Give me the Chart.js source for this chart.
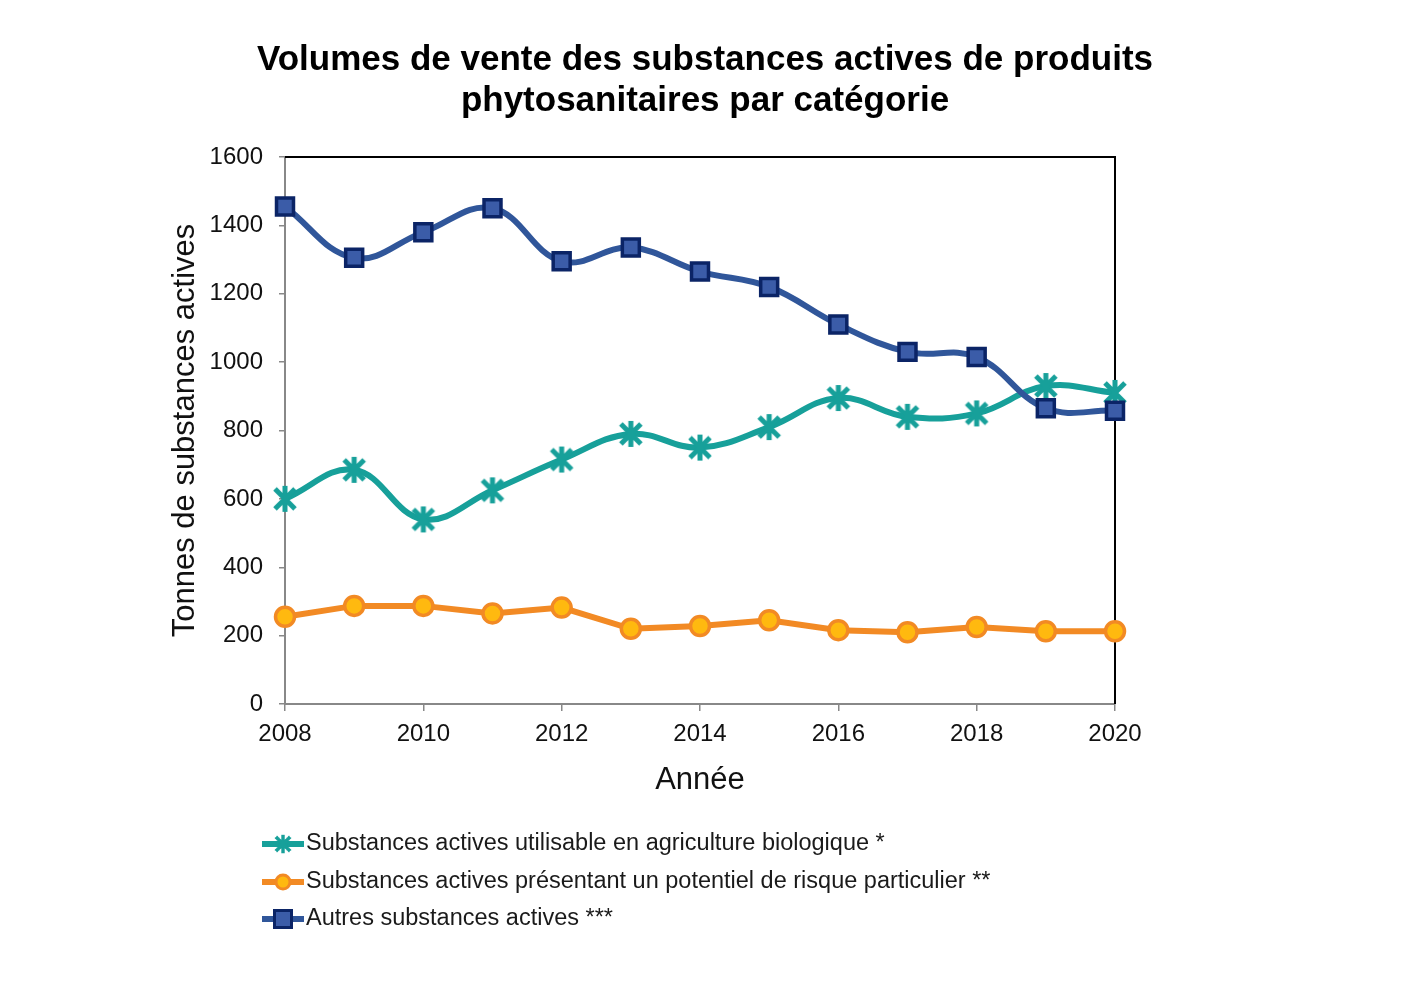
<!DOCTYPE html>
<html>
<head>
<meta charset="utf-8">
<script src="https://cdn.jsdelivr.net/npm/chart.js@4.4.1/dist/chart.umd.min.js"></script>
<style>
  body { margin: 0; background: #fff; }
  canvas { display: block; }
</style>
</head>
<body>
<canvas id="graphique" width="1409" height="981"></canvas>
<script>
const annees = [2008, 2009, 2010, 2011, 2012, 2013, 2014, 2015, 2016, 2017, 2018, 2019, 2020];
const bio = [600, 685, 540, 625, 715, 790, 750, 810, 895, 840, 850, 930, 910];
const risque = [255, 287, 287, 265, 282, 220, 228, 245, 216, 210, 225, 213, 213];
const autres = [1455, 1305, 1380, 1450, 1295, 1335, 1265, 1220, 1110, 1030, 1015, 865, 858];
const libelles = [
    'Substances actives utilisable en agriculture biologique *',
    'Substances actives présentant un potentiel de risque particulier **',
    'Autres substances actives ***'
];
const titre = ['Volumes de vente des substances actives de produits', 'phytosanitaires par catégorie'];

const POLICE = '"Liberation Sans", Arial, sans-serif';
const TEAL = '#17a09a';
const ORANGE = '#f28a24';
const JAUNE = '#ffb90f';
const BLEU = '#30569a';
const BLEU_FONCE = '#0b2466';
const BLEU_REMPLI = '#3b5ca8';

// marqueur étoile (X + trait vertical) comme dans Excel
function etoile(taille) {
    const c = document.createElement('canvas');
    c.width = taille;
    c.height = taille;
    const g = c.getContext('2d');
    g.strokeStyle = TEAL;
    g.lineWidth = 5;
    const m = 4;
    g.beginPath();
    g.moveTo(m, m); g.lineTo(taille - m, taille - m);
    g.moveTo(taille - m, m); g.lineTo(m, taille - m);
    g.moveTo(taille / 2, 1); g.lineTo(taille / 2, taille - 1);
    g.stroke();
    return c;
}
const marqueurEtoile = etoile(28);

const points = valeurs => annees.map((a, i) => ({ x: a, y: valeurs[i] }));

const series = [
    { label: libelles[0], data: points(bio), borderColor: TEAL, pointStyle: marqueurEtoile, tension: 0.4, order: 2 },
    { label: libelles[1], data: points(risque), borderColor: ORANGE, pointStyle: 'circle', pointRadius: 9.5,
      pointBackgroundColor: JAUNE, pointBorderColor: ORANGE, pointBorderWidth: 3.5, tension: 0, order: 3 },
    { label: libelles[2], data: points(autres), borderColor: BLEU, pointStyle: 'rect', pointRadius: 12,
      pointBackgroundColor: BLEU_REMPLI, pointBorderColor: BLEU_FONCE, pointBorderWidth: 3.5, tension: 0.4, order: 1 }
];

// titre centré sur la page, cadre noir haut + droite
const cadre = {
    id: 'cadre',
    beforeDatasetsDraw(chart) {
        const { ctx, chartArea: a } = chart;
        ctx.save();
        ctx.strokeStyle = '#000';
        ctx.lineWidth = 2;
        ctx.beginPath();
        ctx.moveTo(a.left, a.top);
        ctx.lineTo(a.right, a.top);
        ctx.lineTo(a.right, a.bottom);
        ctx.stroke();

        ctx.fillStyle = '#000';
        ctx.font = 'bold 35px ' + POLICE;
        ctx.textAlign = 'center';
        ctx.textBaseline = 'middle';
        ctx.fillText(titre[0], 705, 60);
        ctx.fillText(titre[1], 705, 101);
        ctx.restore();
    }
};

// légende: trait + marqueur + texte
const legende = {
    id: 'legende',
    afterDraw(chart) {
        const ctx = chart.ctx;
        const x0 = 262, ys = [844, 882, 919];
        ctx.save();
        chart.data.datasets.forEach((ds, i) => {
            const y = ys[i];
            ctx.strokeStyle = ds.borderColor;
            ctx.lineWidth = 6;
            ctx.beginPath();
            ctx.moveTo(x0, y);
            ctx.lineTo(x0 + 42, y);
            ctx.stroke();
            const cx = x0 + 21;
            if (i === 0) {
                ctx.drawImage(marqueurEtoile, cx - 10, y - 10, 20, 20);
            } else if (i === 1) {
                ctx.beginPath();
                ctx.arc(cx, y, 7, 0, Math.PI * 2);
                ctx.fillStyle = JAUNE;
                ctx.fill();
                ctx.lineWidth = 3;
                ctx.strokeStyle = ORANGE;
                ctx.stroke();
            } else {
                ctx.fillStyle = BLEU_REMPLI;
                ctx.fillRect(cx - 8.5, y - 8.5, 17, 17);
                ctx.lineWidth = 3;
                ctx.strokeStyle = BLEU_FONCE;
                ctx.strokeRect(cx - 8.5, y - 8.5, 17, 17);
            }
            ctx.fillStyle = '#1a1a1a';
            ctx.font = '23.5px ' + POLICE;
            ctx.textBaseline = 'middle';
            ctx.textAlign = 'left';
            ctx.fillText(ds.label, x0 + 44, y);
        });
        ctx.restore();
    }
};

new Chart(document.getElementById('graphique'), {
    type: 'line',
    data: {
        datasets: series.map(s => Object.assign({
            borderWidth: 6,
            pointRadius: 12,
            pointHoverRadius: 12,
            fill: false,
            clip: false
        }, s))
    },
    options: {
        responsive: false,
        animation: false,
        events: [],
        layout: { padding: { left: 165, right: 294, top: 157, bottom: 177 } },
        plugins: {
            legend: { display: false },
            tooltip: { enabled: false },
            title: { display: false }
        },
        scales: {
            x: {
                type: 'linear',
                min: 2008,
                max: 2020,
                afterFit: s => { s.height = 100; },
                ticks: {
                    stepSize: 2,
                    color: '#111',
                    font: { family: POLICE, size: 24 },
                    padding: 9,
                    maxRotation: 0,
                    callback: v => String(v)
                },
                grid: { drawOnChartArea: false, tickLength: 7, color: '#888', lineWidth: 1.5 },
                border: { color: '#888', width: 2 },
                title: {
                    display: true,
                    text: 'Année',
                    color: '#111',
                    font: { family: POLICE, size: 31 },
                    padding: { top: 8, bottom: 5 }
                }
            },
            y: {
                min: 0,
                max: 1600,
                afterFit: s => { s.width = 120; },
                ticks: {
                    stepSize: 200,
                    color: '#111',
                    font: { family: POLICE, size: 24 },
                    padding: 16,
                    callback: v => String(v)
                },
                grid: { drawOnChartArea: false, tickLength: 6, color: '#888', lineWidth: 1.5 },
                border: { color: '#888', width: 2 },
                title: {
                    display: true,
                    text: 'Tonnes de substances actives',
                    color: '#111',
                    font: { family: POLICE, size: 31 },
                    padding: 2
                }
            }
        }
    },
    plugins: [cadre, legende]
});
</script>
</body>
</html>
